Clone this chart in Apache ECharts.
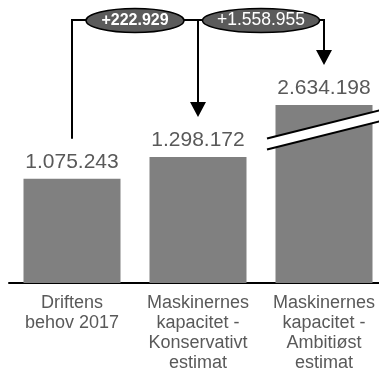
<!DOCTYPE html>
<html>
<head>
<meta charset="utf-8">
<script src="https://cdn.jsdelivr.net/npm/echarts@6/dist/echarts.min.js"></script>
<style>
html,body{margin:0;padding:0;background:#fff;}
#c{width:379px;height:375px;}
</style>
</head>
<body>
<div id="c"></div>
<script>
const categories = ['Driftens\nbehov 2017', 'Maskinernes\nkapacitet -\nKonservativt\nestimat', 'Maskinernes\nkapacitet -\nAmbitiøst\nestimat'];
const values = [1075243, 1298172, 2634198];
const breakRange = [1580000, 2380000];

function fmt(n) {
  return String(Math.abs(n)).replace(/\B(?=(\d{3})+(?!\d))/g, '.');
}
const deltas = [values[1] - values[0], values[2] - values[0]];

const FONT = '"Liberation Sans", Arial, Helvetica, sans-serif';
const chart = echarts.init(document.getElementById('c'), null, {renderer: 'canvas'});

chart.setOption({
  animation: false,
  backgroundColor: '#fff',
  textStyle: {fontFamily: FONT},
  grid: {left: 9, width: 378, top: 105, bottom: 92, containLabel: false, outerBoundsMode: 'none'},
  xAxis: {
    type: 'category',
    data: categories,
    axisLine: {show: true, lineStyle: {color: '#000', width: 2}},
    axisTick: {show: false},
    axisLabel: {color: '#595959', fontSize: 18, lineHeight: 20, margin: 10, fontFamily: FONT, interval: 0}
  },
  yAxis: {
    type: 'value',
    min: 0,
    max: Math.max.apply(null, values),
    breaks: [{start: breakRange[0], end: breakRange[1], gap: 0}],
    breakArea: {show: false},
    axisLine: {show: false},
    axisTick: {show: false},
    axisLabel: {show: false},
    splitLine: {show: false}
  },
  series: [{
    type: 'bar',
    data: values,
    barWidth: 97,
    itemStyle: {color: '#808080'},
    label: {
      show: true,
      position: 'top',
      distance: 6,
      color: '#595959',
      fontSize: 21,
      fontFamily: FONT,
      formatter: p => fmt(p.value)
    }
  }]
});

function px(i) { return chart.convertToPixel({seriesIndex: 0}, [i, values[i]]); }
const p = [0, 1, 2].map(px);
const xs = p.map(a => a[0]);
const tops = p.map(a => a[1]);
const W = chart.getWidth();
const bracketY = 20;
const tipOff = 40;
const head = 15, hw = 8;
const ell = [
  {cx: (xs[0] + xs[1]) / 2, rx: 49, text: '+' + fmt(deltas[0]), bold: true, size: 16},
  {cx: (xs[1] + xs[2]) / 2, rx: 58.5, text: '+' + fmt(deltas[1]), bold: false, size: 17.5}
];
const ry = 12;
const lineStyle = {stroke: '#000', lineWidth: 2, fill: null};
const g = [];

g.push({type: 'polyline', shape: {points: [[xs[0], tops[0] - tipOff], [xs[0], bracketY], [ell[0].cx - ell[0].rx, bracketY]]}, style: lineStyle, z: 10});
g.push({type: 'line', shape: {x1: ell[0].cx + ell[0].rx, y1: bracketY, x2: ell[1].cx - ell[1].rx, y2: bracketY}, style: lineStyle, z: 10});
g.push({type: 'line', shape: {x1: xs[1], y1: bracketY, x2: xs[1], y2: tops[1] - tipOff - head + 1}, style: lineStyle, z: 10});
g.push({type: 'polygon', shape: {points: [[xs[1] - hw, tops[1] - tipOff - head], [xs[1] + hw, tops[1] - tipOff - head], [xs[1], tops[1] - tipOff]]}, style: {fill: '#000'}, z: 10});
g.push({type: 'polyline', shape: {points: [[ell[1].cx + ell[1].rx, bracketY], [xs[2], bracketY], [xs[2], tops[2] - tipOff - head + 1]]}, style: lineStyle, z: 10});
g.push({type: 'polygon', shape: {points: [[xs[2] - hw, tops[2] - tipOff - head], [xs[2] + hw, tops[2] - tipOff - head], [xs[2], tops[2] - tipOff]]}, style: {fill: '#000'}, z: 10});
ell.forEach(e => {
  g.push({type: 'ellipse', shape: {cx: e.cx, cy: bracketY + 0.5, rx: e.rx, ry: ry}, style: {fill: '#5b5b5b', stroke: '#000', lineWidth: 1.5}, z: 11});
  g.push({type: 'text', x: e.cx, y: bracketY + 0.5, style: {text: e.text, fill: '#fff', fontSize: e.size, fontWeight: e.bold ? 'bold' : 'normal', fontFamily: FONT, align: 'center', verticalAlign: 'middle'}, z: 12});
});
const yb = (chart.convertToPixel({yAxisIndex: 0}, breakRange[0]) + chart.convertToPixel({yAxisIndex: 0}, breakRange[1])) / 2;
const slope = -0.25;
const half = 5.5;
const bx0 = xs[2] - 57, bx1 = W + 2;
const yAt = (x, off) => yb + off + slope * (x - xs[2]);
g.push({type: 'polygon', shape: {points: [[bx0, yAt(bx0, -half)], [bx1, yAt(bx1, -half)], [bx1, yAt(bx1, half)], [bx0, yAt(bx0, half)]]}, style: {fill: '#fff'}, z: 10});
g.push({type: 'line', shape: {x1: bx0, y1: yAt(bx0, -half), x2: bx1, y2: yAt(bx1, -half)}, style: lineStyle, z: 11});
g.push({type: 'line', shape: {x1: bx0, y1: yAt(bx0, half), x2: bx1, y2: yAt(bx1, half)}, style: lineStyle, z: 11});

chart.setOption({graphic: g});
</script>
</body>
</html>
